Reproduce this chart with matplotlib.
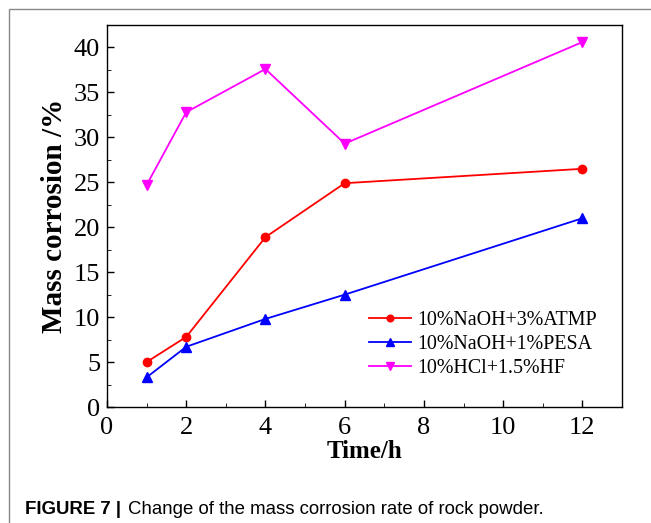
import matplotlib.pyplot as plt
from matplotlib.patches import Rectangle

time_h = [1, 2, 4, 6, 12]
atmp = [5.0, 7.8, 18.9, 24.9, 26.5]
pesa = [3.3, 6.7, 9.8, 12.5, 21.0]
hcl_hf = [24.7, 32.8, 37.6, 29.3, 40.6]
labels = ['10%NaOH+3%ATMP', '10%NaOH+1%PESA', '10%HCl+1.5%HF']


def main():
    plt.rcParams['font.family'] = 'Liberation Serif'
    fig = plt.figure(figsize=(6.51, 5.23), dpi=100)

    # outer frame of the figure panel
    fig.patches.append(Rectangle((9 / 651, -0.1), 1.2, 1 - 9 / 523 + 0.1,
                                 transform=fig.transFigure, fill=False,
                                 edgecolor='#888888', linewidth=1.0))

    ax = fig.add_axes([107 / 651, 1 - 407 / 523, (622 - 107) / 651, (407 - 25) / 523])
    ax.plot(time_h, atmp, color='red', marker='o', markersize=6, lw=1.3, label=labels[0])
    ax.plot(time_h, pesa, color='blue', marker='^', markersize=7, lw=1.3, label=labels[1])
    ax.plot(time_h, hcl_hf, color='magenta', marker='v', markersize=7, lw=1.3, label=labels[2])

    ax.set_xlim(0, 13)
    ax.set_ylim(0, 42.4)
    ax.set_xticks(range(0, 13, 2))
    ax.set_xticks(range(1, 13, 2), minor=True)
    ax.set_yticks(range(0, 41, 5))
    ax.set_yticks([2.5 + 5 * i for i in range(9)], minor=True)
    ax.tick_params(direction='in', labelsize=19, length=5, width=1)
    ax.tick_params(axis='x', pad=7)
    ax.tick_params(axis='y', pad=5)
    ax.tick_params(which='minor', direction='in', length=3)
    ax.tick_params(axis='y', which='both', right=False)
    for s in ax.spines.values():
        s.set_linewidth(1.0)

    ax.set_xlabel('Time/h', fontsize=18, fontweight='bold', labelpad=1)
    ax.set_ylabel('Mass corrosion /%', fontsize=21, fontweight='bold', labelpad=4)

    ax.legend(loc='lower right', bbox_to_anchor=(0.951, 0.075), frameon=False,
              fontsize=14.4, handlelength=2.1, labelspacing=0.25, handletextpad=0.3,
              borderaxespad=0, borderpad=0, markerscale=0.8)

    fig.text(25 / 651, 1 - 514 / 523, 'FIGURE 7 |', fontsize=13.4, fontweight='bold',
             family='Liberation Sans', va='baseline', ha='left')
    fig.text(128 / 651, 1 - 514 / 523, 'Change of the mass corrosion rate of rock powder.',
             fontsize=13.4, family='Liberation Sans', va='baseline', ha='left')

    fig.savefig('out.png', dpi=100)


if __name__ == '__main__':
    main()
